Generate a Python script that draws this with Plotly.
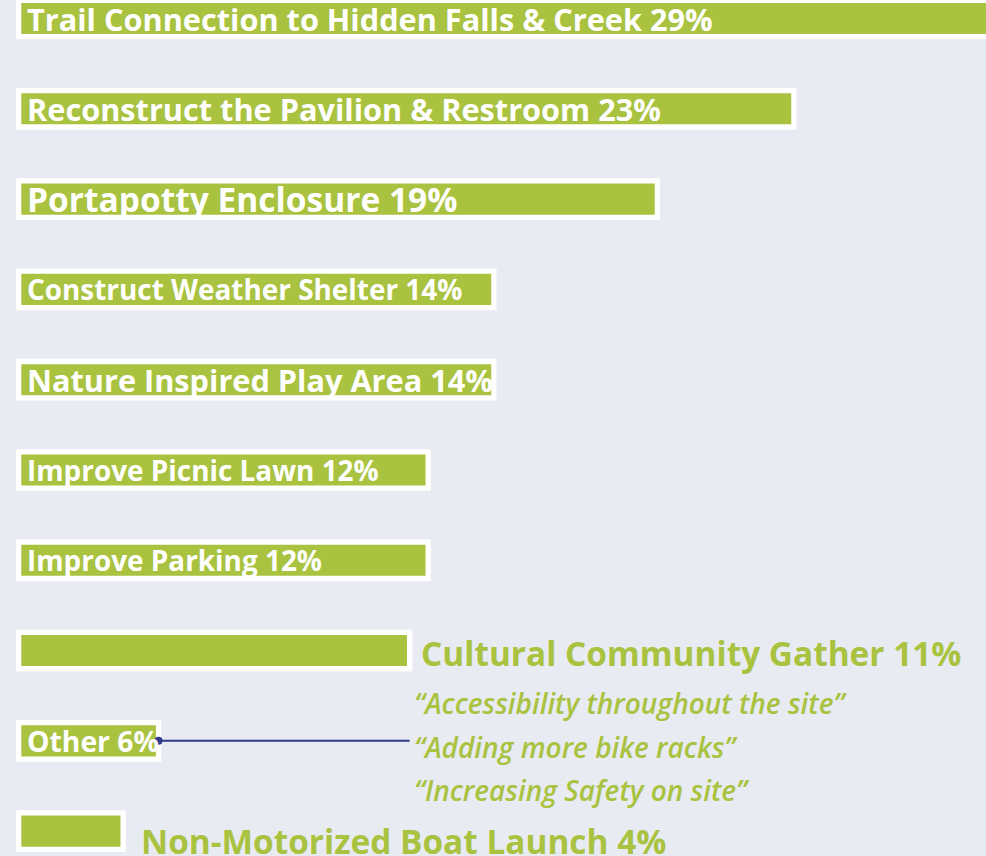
import plotly.graph_objects as go

# priorities from the survey, top to bottom
categories = [
    "Trail Connection to Hidden Falls & Creek",
    "Reconstruct the Pavilion & Restroom",
    "Portapotty Enclosure",
    "Construct Weather Shelter",
    "Nature Inspired Play Area",
    "Improve Picnic Lawn",
    "Improve Parking",
    "Cultural Community Gather",
    "Other",
    "Non-Motorized Boat Launch",
]
# percentages as printed on the labels
share_pct = [29, 23, 19, 14, 14, 12, 12, 11, 6, 4]
# bar lengths as drawn (the graphic is not exactly to scale)
bar_len = [29.3, 23.0, 18.95, 14.1, 14.1, 12.15, 12.15, 11.6, 4.15, 3.1]
# write-in answers under "Other"
other_quotes = [
    "\u201cAccessibility throughout the site\u201d",
    "\u201cAdding more bike racks\u201d",
    "\u201cIncreasing Safety on site\u201d",
]

GREEN = "#a9c23f"
NAVY = "#2e3b8c"
BG = "#e8ebf2"
FONT = "Open Sans, Noto Sans, sans-serif"

# label styling per row: size, inside bar or to the right
label_size = [30.7, 30.7, 33.5, 27.9, 30.7, 27.9, 27.9, 33.4, 28.3, 33.4]
outside = [False] * 7 + [True, False, True]
label_yshift = [0, 0, 0, 0, 0, 0, 0, -2, 0, -10]
label_xshift = [6, 6, 6, 6, 6, 6, 6, 9, 6, 16]

fig = go.Figure(
    go.Bar(
        x=bar_len,
        y=categories,
        orientation="h",
        marker=dict(color=GREEN, line=dict(color="white", width=5.3)),
        hoverinfo="skip",
    )
)

annotations = []
for i, (cat, pct) in enumerate(zip(categories, share_pct)):
    annotations.append(dict(
        x=bar_len[i] if outside[i] else 0,
        y=cat,
        xref="x", yref="y",
        text=f"{cat} {pct}%",
        showarrow=False,
        xanchor="left", yanchor="middle",
        xshift=label_xshift[i], yshift=label_yshift[i],
        font=dict(family=FONT, size=label_size[i], weight="bold",
                  color=GREEN if outside[i] else "white"),
    ))

# quotes hang off the "Other" bar, starting where the connector ends
quote_yshift = [38, -6, -49]
for q, ys in zip(other_quotes, quote_yshift):
    annotations.append(dict(
        x=bar_len[7], y="Other", xref="x", yref="y",
        text=q, showarrow=False,
        xanchor="left", yanchor="middle",
        xshift=2, yshift=ys,
        font=dict(family=FONT, size=28, weight=600, style="italic", color=GREEN),
    ))

fig.add_shape(type="line", x0=bar_len[8], x1=bar_len[7], y0="Other", y1="Other",
              xref="x", yref="y", line=dict(color=NAVY, width=2))
fig.add_trace(go.Scatter(
    x=[bar_len[8]], y=["Other"], mode="markers",
    marker=dict(color=NAVY, size=8), hoverinfo="skip",
))

fig.update_layout(
    width=986, height=856,
    margin=dict(l=0, r=0, t=0, b=0),
    paper_bgcolor=BG, plot_bgcolor=BG,
    showlegend=False,
    bargap=0.597,
    annotations=annotations,
    xaxis=dict(range=[-0.553, 28.70], visible=False),
    yaxis=dict(type="category", categoryorder="array", categoryarray=categories,
               range=[9.275, -0.205], visible=False),
)

fig.write_html(
    "out.html",
    config={"displayModeBar": False},
    post_script="document.body.style.margin='0';document.body.style.overflow='hidden';",
)
